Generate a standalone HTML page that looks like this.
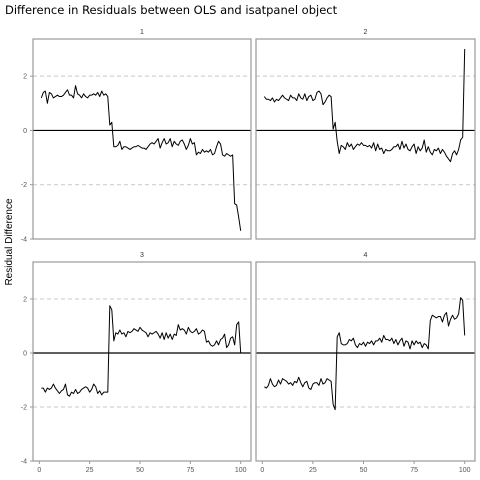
<!DOCTYPE html>
<html><head><meta charset="utf-8"><style>
html,body{margin:0;padding:0;background:#fff;}
svg{display:block;font-family:"Liberation Sans","DejaVu Sans",sans-serif;}
</style></head><body>
<svg id="chart" width="480" height="480" viewBox="0 0 480 480">
<text x="5" y="14" font-size="11.5" fill="#000" font-family="DejaVu Sans, Liberation Sans, sans-serif">Difference in Residuals between OLS and isatpanel object</text>
<text transform="translate(12,242) rotate(-90)" text-anchor="middle" font-size="10" fill="#000">Residual Difference</text>
</svg>
<script>
const panelIds = ["1","2","3","4"];
const yTicks = [2, 0, -2, -4];
const xTicks = [0, 25, 50, 75, 100];
const xTickLabels = ["0", "25", "50", "75", "100"];
const series1 = [1.2,1.4,1.45,1.0,1.4,1.35,1.2,1.25,1.3,1.25,1.25,1.3,1.4,1.5,1.3,1.3,1.2,1.65,1.35,1.3,1.2,1.35,1.25,1.2,1.3,1.3,1.35,1.3,1.4,1.25,1.45,1.3,1.35,1.25,
0.2,0.3,
-0.6,-0.6,-0.55,-0.4,-0.7,-0.6,-0.6,-0.65,-0.7,-0.65,-0.6,-0.6,-0.55,-0.6,-0.65,-0.65,-0.7,-0.6,-0.5,-0.45,-0.5,-0.4,-0.3,-0.65,-0.45,-0.3,-0.5,-0.45,-0.3,-0.6,-0.4,-0.5,-0.55,-0.4,-0.35,-0.5,-0.7,-0.55,-0.3,-0.5,-0.45,-0.9,-0.8,-0.85,-0.7,-0.8,-0.75,-0.8,-0.7,-0.9,-0.85,-0.6,-0.4,-0.5,-0.9,-0.95,-0.85,-0.9,-0.95,-0.9,-2.7,-2.75,-3.2,-3.7];
const series2 = [1.25,1.15,1.15,1.1,1.2,1.05,1.15,1.1,1.2,1.3,1.2,1.15,1.1,1.3,1.2,1.2,1.1,1.35,1.2,1.15,1.35,1.1,1.25,1.3,1.1,1.15,1.4,1.45,1.35,0.95,1.05,1.2,1.3,1.25,
0.05,0.3,
-0.4,-0.85,-0.55,-0.6,-0.7,-0.45,-0.6,-0.5,-0.7,-0.6,-0.5,-0.55,-0.45,-0.55,-0.55,-0.6,-0.55,-0.65,-0.45,-0.75,-0.5,-0.7,-0.65,-0.85,-0.7,-0.75,-0.75,-0.7,-0.6,-0.6,-0.5,-0.7,-0.4,-0.65,-0.5,-0.7,-0.75,-0.6,-0.5,-0.85,-0.6,-0.75,-0.65,-0.35,-0.8,-0.6,-0.8,-0.9,-0.7,-0.75,-0.65,-0.85,-0.7,-0.8,-0.95,-1.05,-1.15,-0.85,-0.75,-0.9,-0.7,-0.35,-0.25,3.0];
const series3 = [-1.3,-1.3,-1.45,-1.3,-1.35,-1.3,-1.15,-1.3,-1.4,-1.5,-1.4,-1.35,-1.15,-1.55,-1.6,-1.45,-1.5,-1.35,-1.5,-1.45,-1.35,-1.3,-1.25,-1.3,-1.45,-1.35,-1.15,-1.25,-1.5,-1.4,-1.55,-1.45,-1.45,-1.45,
1.75,1.6,0.45,0.75,0.7,0.85,0.7,0.75,0.6,0.8,0.75,0.8,0.9,0.85,0.8,0.95,0.85,0.8,0.75,0.6,0.75,0.7,0.75,0.8,0.7,0.55,0.75,0.5,0.75,0.55,0.7,0.5,0.7,0.65,1.05,0.85,0.9,0.85,0.7,0.95,0.8,0.75,0.8,0.9,0.7,0.75,0.85,0.8,0.4,0.45,0.3,0.25,0.3,0.45,0.3,0.5,0.55,0.7,0.2,0.3,0.55,0.6,0.3,1.05,1.15,0];
const series4 = [-1.25,-1.3,-1.2,-0.95,-1.15,-1.25,-1.2,-1.0,-1.15,-0.95,-1.0,-1.05,-1.15,-1.1,-1.2,-1.05,-1.1,-0.9,-1.1,-1.25,-1.1,-1.05,-1.3,-1.35,-1.15,-1.1,-1.1,-1.2,-0.95,-1.15,-1.1,-0.95,-1.0,-1.05,
-1.9,-2.1,0.6,0.75,0.35,0.3,0.3,0.35,0.5,0.45,0.55,0.3,0.2,0.35,0.3,0.4,0.25,0.4,0.35,0.45,0.3,0.45,0.45,0.55,0.4,0.65,0.5,0.5,0.45,0.55,0.35,0.5,0.3,0.45,0.55,0.25,0.45,0.4,0.15,0.45,0.3,0.45,0.35,0.4,0.2,0.35,0.3,0.15,1.2,1.4,1.35,1.3,1.35,1.35,1.15,1.4,1.5,1.0,1.25,1.4,1.25,1.3,1.45,2.05,1.95,0.65];
const allSeries = [series1, series2, series3, series4];

const NS = "http://www.w3.org/2000/svg";
const svg = document.getElementById("chart");
const boxes = [
  {x0:33, x1:251, y0:39, y1:239},
  {x0:256, x1:475, y0:39, y1:239},
  {x0:33, x1:251, y0:262, y1:461},
  {x0:256, x1:475, y0:262, y1:461}
];
const Y_MAX = 3.37, Y_MIN = -4.0;
function mk(tag, attrs){ const e=document.createElementNS(NS,tag); for(const k in attrs) e.setAttribute(k,attrs[k]); svg.appendChild(e); return e; }

boxes.forEach((b, i) => {
  const xScale = v => b.x0 + 6.3 + (v / 100) * (b.x1 - b.x0 - 16.6);
  const yScale = v => b.y0 + (Y_MAX - v) / (Y_MAX - Y_MIN) * (b.y1 - b.y0);
  const strip = mk("text", {x:(b.x0+b.x1)/2, y:b.y0-5, "text-anchor":"middle", "font-size":"7", fill:"#333"});
  strip.textContent = panelIds[i];
  
  
  yTicks.forEach(t => {
    const y = yScale(t);
    if (t !== 0) {
      const g = mk("line", {x1:b.x0, x2:b.x1, y1:y, y2:y, stroke:"#c8c8c8", "stroke-width":"1", "stroke-dasharray":"4,3"});
      
      
    }
    if (i === 0 || i === 2) {
      const tk = mk("line", {x1:b.x0-3, x2:b.x0, y1:y, y2:y, stroke:"#999", "stroke-width":"1"});
      
      
      const lb = mk("text", {x:b.x0-6, y:y+2.5, "text-anchor":"end", "font-size":"7", fill:"#555"});
      lb.textContent = String(t);
      
      
    }
  });
  if (i >= 2) {
    xTicks.forEach((t, k) => {
      const x = xScale(t);
      const tk = mk("line", {x1:x, x2:x, y1:b.y1, y2:b.y1+3, stroke:"#999", "stroke-width":"1"});
      
      
      const lb = mk("text", {x:x, y:b.y1+11, "text-anchor":"middle", "font-size":"7", fill:"#555"});
      lb.textContent = xTickLabels[k];
      
      
    });
  }
  const zl = mk("line", {x1:b.x0, x2:b.x1, y1:yScale(0), y2:yScale(0), stroke:"#000", "stroke-width":"1.2"});
  
  
  const pts = allSeries[i].map((v, j) => xScale(j + 1).toFixed(2) + "," + yScale(v).toFixed(2)).join(" ");
  const pl = mk("polyline", {points:pts, fill:"none", stroke:"#000", "stroke-width":"1", "stroke-linejoin":"round"});
  
  
  const rect = mk("rect", {x:b.x0, y:b.y0, width:b.x1-b.x0, height:b.y1-b.y0, fill:"none", stroke:"#999", "stroke-width":"1.2"});
  
  
});
</script>
</body></html>
